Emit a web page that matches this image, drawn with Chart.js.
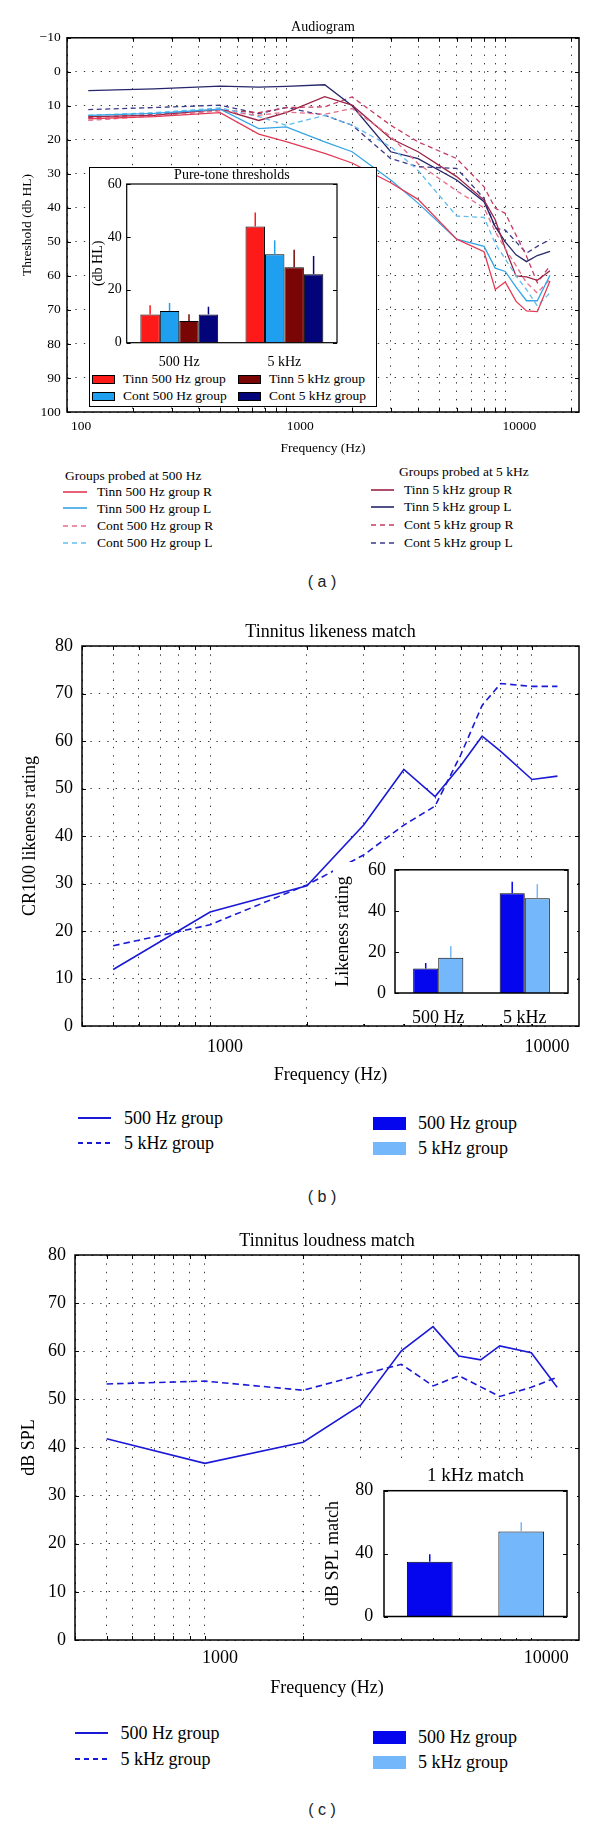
<!DOCTYPE html>
<html lang="en">
<head>
<meta charset="utf-8">
<title>Audiogram, tinnitus likeness and loudness match</title>
<script src="https://cdn.jsdelivr.net/npm/chart.js@4.4.1/dist/chart.umd.min.js"></script>
<style>
  html, body { margin: 0; padding: 0; background: #fff; }
  #page { position: relative; width: 600px; height: 1826px; overflow: hidden;
          font-family: "Liberation Serif", "Times New Roman", serif; color: #000; }
  #page canvas, #page .abs { position: absolute; }
  .txt { white-space: nowrap; line-height: 1; }
  .tag { font-family: "Liberation Sans", Arial, sans-serif; transform: translateX(-50%); color: #222; }
  .white { background: #fff; box-sizing: border-box; }
</style>
</head>
<body>
<div id="page"></div>
<script>
// (a) audiogram: thresholds in dB HL per test frequency
const audioFreqs = [125, 250, 500, 750, 1000, 1500, 2000, 3000, 4000, 6000, 8000, 9000, 10000, 11200, 12500, 14000, 16000];
const tinn500R = [13.8, 13.2, 12.0, 18.3, 20.5, 24.0, 26.8, 32.6, 37.5, 49.2, 52.9, 64.0, 61.8, 67.5, 70.3, 70.5, 61.5];
const tinn500L = [12.8, 12.2, 11.0, 16.7, 16.2, 20.6, 23.5, 31.8, 38.6, 49.2, 51.3, 57.7, 58.7, 63.3, 67.3, 67.3, 59.8];
const cont500R = [14.3, 13.0, 11.5, 12.8, 11.8, 12.5, 10.8, 19.0, 27.0, 35.0, 40.0, 47.0, 52.0, 57.0, 62.0, 65.0, 61.0];
const cont500L = [12.8, 12.0, 10.6, 13.2, 15.7, 12.8, 15.7, 22.0, 29.0, 42.4, 42.8, 50.5, 55.0, 60.0, 64.0, 68.8, 65.0];
const tinn5kR = [13.2, 12.8, 11.0, 14.3, 12.0, 7.3, 9.8, 19.6, 23.5, 30.8, 37.7, 43.5, 52.0, 60.0, 60.3, 61.3, 58.5];
const tinn5kL = [5.5, 5.0, 4.2, 4.5, 4.3, 3.8, 10.0, 23.5, 25.5, 31.8, 38.2, 45.5, 50.0, 53.8, 55.8, 54.0, 52.8];
const cont5kR = [13.5, 12.5, 11.2, 12.0, 10.5, 10.3, 7.4, 15.7, 20.6, 25.5, 33.8, 40.1, 41.6, 48.0, 54.2, 62.0, 57.0];
const cont5kL = [11.1, 10.5, 9.8, 12.3, 10.5, 12.8, 15.7, 25.5, 27.9, 28.4, 37.2, 46.0, 46.5, 50.0, 53.3, 51.3, 49.3];
const audioGridTicks = [100, 200, 300, 400, 500, 600, 700, 800, 900, 1000, 2000, 3000, 4000, 5000, 6000, 7000, 8000, 9000, 10000, 20000];
const audioLabelTicks = [100, 1000, 10000];

// (a) inset: pure-tone thresholds
const toneCats = ["500 Hz", "5 kHz"];
const toneTinn500 = [10.7, 43.9];
const toneTinn500Err = [3.5, 5.3];
const toneCont500 = [12.0, 33.4];
const toneCont500Err = [3.0, 5.3];
const toneTinn5k = [8.2, 28.5];
const toneTinn5kErr = [2.6, 6.6];
const toneCont5k = [10.7, 25.9];
const toneCont5kErr = [2.9, 6.9];

// (b) likeness match
const likeFreqs = [500, 1000, 2000, 3000, 4000, 5000, 6000, 7000, 8000, 10000, 12000];
const like500 = [11.9, 24.0, 29.5, 42.3, 54.0, 48.3, 54.8, 61.0, 57.8, 51.9, 52.6];
const like5k = [16.9, 21.3, 29.7, 36.0, 42.3, 46.3, 57.0, 67.5, 72.1, 71.5, 71.5];
const likeBarCats = ["500 Hz", "5 kHz"];
const likeBar500 = [11.9, 48.6];
const likeBar500Err = [2.7, 5.6];
const likeBar5k = [17.2, 46.2];
const likeBar5kErr = [5.7, 6.8];

// (c) loudness match
const loudFreqs = [500, 1000, 2000, 3000, 4000, 5000, 6000, 7000, 8000, 10000, 12000];
const loud500 = [41.8, 36.7, 41.1, 48.8, 60.1, 65.1, 59.0, 58.2, 61.1, 59.7, 52.5];
const loud5k = [53.2, 53.8, 51.9, 55.1, 57.3, 52.8, 54.9, 52.6, 50.6, 52.5, 54.6];
const loudBarCats = ["500 Hz group", "5 kHz group"];
const loudBar = [34.8, 54.0];
const loudBarErr = [4.8, 6.0];

const matchGridTicks = [400, 500, 600, 700, 800, 900, 1000, 2000, 3000, 4000, 5000, 6000, 7000, 8000, 9000, 10000];
const matchLabelTicks = [1000, 10000];

const lineBlue = "#1a1ad6";
const barDark = "#0505ee";
const barLight = "#74b8fb";
const gridColor = "#3a3a3a";
const gridDash = [1.4, 7];

const audioSeries = [
  { label: "Tinn 500 Hz group R", values: tinn500R, color: "#e33b55", dashed: false },
  { label: "Tinn 500 Hz group L", values: tinn500L, color: "#35a5e6", dashed: false },
  { label: "Cont 500 Hz group R", values: cont500R, color: "#e56d8a", dashed: true },
  { label: "Cont 500 Hz group L", values: cont500L, color: "#62bdf0", dashed: true },
  { label: "Tinn 5 kHz group R", values: tinn5kR, color: "#9b2446", dashed: false },
  { label: "Tinn 5 kHz group L", values: tinn5kL, color: "#26266c", dashed: false },
  { label: "Cont 5 kHz group R", values: cont5kR, color: "#c73a5f", dashed: true },
  { label: "Cont 5 kHz group L", values: cont5kL, color: "#3a3a88", dashed: true },
];

const toneSeries = [
  { label: "Tinn 500 Hz group", values: toneTinn500, errors: toneTinn500Err, color: "#ff1a1a" },
  { label: "Cont 500 Hz group", values: toneCont500, errors: toneCont500Err, color: "#1e9ff0" },
  { label: "Tinn 5 kHz group", values: toneTinn5k, errors: toneTinn5kErr, color: "#7a0505" },
  { label: "Cont 5 kHz group", values: toneCont5k, errors: toneCont5kErr, color: "#03037a" },
];

Chart.defaults.font.family = "'Liberation Serif', 'Times New Roman', serif";
Chart.defaults.color = "#000";
Chart.defaults.animation = false;
Chart.defaults.plugins.legend.display = false;
Chart.defaults.plugins.tooltip.enabled = false;

const page = document.getElementById("page");

// box around the plot area plus small inward ticks, matlab style
const framePlugin = {
  id: "frame",
  afterDraw(chart, args, opts) {
    const { ctx, chartArea: area } = chart;
    const len = 4;
    ctx.save();
    ctx.strokeStyle = "#000";
    ctx.lineWidth = 1;
    ctx.beginPath();
    if (opts.xTicks) {
      const sx = chart.scales.x;
      sx.ticks.forEach((t) => {
        const px = Math.round(sx.getPixelForValue(t.value)) + 0.5;
        ctx.moveTo(px, area.top);
        ctx.lineTo(px, area.top + len);
        ctx.moveTo(px, area.bottom);
        ctx.lineTo(px, area.bottom - len);
      });
    }
    if (opts.yTicks) {
      const sy = chart.scales.y;
      sy.ticks.forEach((t) => {
        const py = Math.round(sy.getPixelForValue(t.value)) + 0.5;
        ctx.moveTo(area.left, py);
        ctx.lineTo(area.left + len, py);
        ctx.moveTo(area.right, py);
        ctx.lineTo(area.right - len, py);
      });
    }
    ctx.stroke();
    ctx.lineWidth = opts.lineWidth || 1.5;
    ctx.strokeRect(area.left, area.top, area.right - area.left, area.bottom - area.top);
    ctx.restore();
  },
};

// one-sided error bars on top of each bar
const errorBarPlugin = {
  id: "errorBars",
  afterDatasetsDraw(chart) {
    const { ctx } = chart;
    const yScale = chart.scales.y;
    chart.data.datasets.forEach((ds, i) => {
      if (!ds.errors) return;
      chart.getDatasetMeta(i).data.forEach((bar, j) => {
        const color = Array.isArray(ds.backgroundColor) ? ds.backgroundColor[j] : ds.backgroundColor;
        const top = yScale.getPixelForValue(ds.data[j] + ds.errors[j]);
        ctx.save();
        ctx.strokeStyle = color;
        ctx.lineWidth = 1.5;
        ctx.beginPath();
        ctx.moveTo(bar.x, bar.y);
        ctx.lineTo(bar.x, top);
        ctx.stroke();
        ctx.restore();
      });
    });
  },
};

function addCanvas(x, y, w, h) {
  const c = document.createElement("canvas");
  c.width = w;
  c.height = h;
  c.style.left = x + "px";
  c.style.top = y + "px";
  page.appendChild(c);
  return c;
}

function addWhiteBox(x, y, w, h, border) {
  const d = document.createElement("div");
  d.className = "abs white";
  Object.assign(d.style, {
    left: x + "px", top: y + "px", width: w + "px", height: h + "px",
    border: border ? "1px solid #000" : "none",
  });
  page.appendChild(d);
}

function addText(text, x, cy, size, cls = "txt") {
  const d = document.createElement("div");
  d.className = "abs " + cls;
  d.textContent = text;
  d.style.left = x + "px";
  d.style.top = (cy - size / 2) + "px";
  d.style.fontSize = size + "px";
  page.appendChild(d);
}

function addLineSample(x1, x2, cy, color, dashed, width) {
  const ns = "http://www.w3.org/2000/svg";
  const svg = document.createElementNS(ns, "svg");
  svg.setAttribute("class", "abs");
  svg.setAttribute("width", x2 - x1);
  svg.setAttribute("height", 6);
  svg.style.left = x1 + "px";
  svg.style.top = (cy - 3) + "px";
  const line = document.createElementNS(ns, "line");
  line.setAttribute("x1", 0);
  line.setAttribute("x2", x2 - x1);
  line.setAttribute("y1", 3);
  line.setAttribute("y2", 3);
  line.setAttribute("stroke", color);
  line.setAttribute("stroke-width", width);
  if (dashed) line.setAttribute("stroke-dasharray", "5 4");
  svg.appendChild(line);
  page.appendChild(svg);
}

function addSwatch(x, cy, w, h, color, outlined) {
  const d = document.createElement("div");
  d.className = "abs";
  Object.assign(d.style, {
    left: x + "px", top: (cy - h / 2) + "px", width: w + "px", height: h + "px",
    background: color, boxSizing: "border-box",
    border: outlined ? "1px solid #000" : "none",
  });
  page.appendChild(d);
}

function plotTitle(text, size, padTop, padBottom, lineHeight = 1.2) {
  return {
    display: true, text, fullSize: false, color: "#000",
    font: { size, weight: "normal", lineHeight },
    padding: { top: padTop, bottom: padBottom },
  };
}

function logAxis(min, max, gridTicks, labelTicks, size, title, tickPad, titlePad, height, labelOffset) {
  return {
    type: "logarithmic", min, max,
    afterBuildTicks: (s) => { s.ticks = gridTicks.map((v) => ({ value: v })); },
    afterFit: (s) => { s.height = height; },
    ticks: {
      autoSkip: false, maxRotation: 0, padding: tickPad, labelOffset, font: { size },
      callback: (v) => (labelTicks.includes(v) ? String(v) : ""),
    },
    grid: { color: gridColor, lineWidth: 1, drawTicks: false },
    border: { display: false, dash: gridDash },
    title: { display: true, text: title, font: { size }, padding: { top: 0, bottom: titlePad } },
  };
}

function valueAxis(min, max, step, size, title, width, tickPad, titlePad, reverse, showGrid) {
  return {
    type: "linear", min, max, reverse,
    afterFit: (s) => { s.width = width; },
    ticks: { stepSize: step, padding: tickPad, font: { size }, callback: (v) => String(v).replace("-", "\u2212") },
    grid: { display: showGrid, color: gridColor, lineWidth: 1, drawTicks: false },
    border: { display: false, dash: gridDash },
    title: { display: true, text: title, font: { size }, padding: { top: titlePad, bottom: 0 } },
  };
}

function renderAudiogram() {
  new Chart(addCanvas(0, 0, 600, 458), {
    type: "line",
    data: {
      datasets: audioSeries.map((s) => ({
        label: s.label,
        data: audioFreqs.map((f, i) => ({ x: f, y: s.values[i] })),
        borderColor: s.color,
        borderWidth: 1.3,
        borderDash: s.dashed ? [5, 3.5] : [],
        pointRadius: 0,
        fill: false,
      })),
    },
    options: {
      responsive: false,
      devicePixelRatio: 1,
      layout: { padding: { left: 0, right: 21, top: 0, bottom: 0 } },
      scales: {
        x: logAxis(100, 21700, audioGridTicks, audioLabelTicks, 13.5, "Frequency (Hz)", 6.6, 1.3, 46, 14),
        y: valueAxis(-10, 100, 10, 13.5, "Threshold (db HL)", 67, 6.3, 19.6, true, true),
      },
      plugins: { title: plotTitle("Audiogram", 14, 19, 2), frame: { xTicks: true, yTicks: true } },
    },
    plugins: [framePlugin],
  });
}

function renderToneInset() {
  addWhiteBox(89, 167, 288, 240, true);
  new Chart(addCanvas(90, 168, 267, 200), {
    type: "bar",
    data: {
      labels: toneCats,
      datasets: toneSeries.map((s) => ({
        label: s.label, data: s.values, errors: s.errors,
        backgroundColor: s.color, borderColor: "#000", borderWidth: 1,
      })),
    },
    options: {
      responsive: false,
      devicePixelRatio: 1,
      layout: { padding: { left: 0, right: 20, top: 0, bottom: 0 } },
      datasets: { bar: { categoryPercentage: 0.74, barPercentage: 1 } },
      scales: {
        x: {
          afterFit: (s) => { s.height = 25.3; },
          grid: { display: false }, border: { display: false },
          ticks: { padding: 2.9, font: { size: 14 } },
        },
        y: valueAxis(0, 60, 20, 14, "(db HL)", 36.7, 5, 0, false, false),
      },
      plugins: { title: plotTitle("Pure-tone thresholds", 14, 0, 2, 1), frame: { yTicks: true, lineWidth: 1.2 } },
    },
    plugins: [framePlugin, errorBarPlugin],
  });

  const rows = [379, 396];
  const cols = [{ sw: 92, tx: 123 }, { sw: 238, tx: 269 }];
  // legend reads row by row: Tinn 500, Tinn 5k / Cont 500, Cont 5k
  [[0, 2], [1, 3]].forEach((pair, r) => {
    pair.forEach((idx, c) => {
      addSwatch(cols[c].sw, rows[r], 23, 9, toneSeries[idx].color, true);
      addText(toneSeries[idx].label, cols[c].tx, rows[r], 13.5);
    });
  });
}

function renderAudioLegend() {
  addText("Groups probed at 500 Hz", 65, 475.7, 13.5);
  addText("Groups probed at 5 kHz", 399, 471.7, 13.5);
  const leftRows = [491.7, 508.3, 525.7, 542.7];
  const rightRows = [490, 506.7, 525, 542.7];
  audioSeries.slice(0, 4).forEach((s, i) => {
    addLineSample(63, 87, leftRows[i], s.color, s.dashed, 1.6);
    addText(s.label, 97, leftRows[i], 13.5);
  });
  audioSeries.slice(4).forEach((s, i) => {
    addLineSample(371, 394, rightRows[i], s.color, s.dashed, 1.6);
    addText(s.label, 404, rightRows[i], 13.5);
  });
  addText("( a )", 322, 582, 16, "txt tag");
}

function matchLineChart(top, height, titleText, titlePads, yTitle, values, xOpts, yOpts) {
  new Chart(addCanvas(0, top, 600, height), {
    type: "line",
    data: {
      datasets: [
        { label: "500 Hz group", data: values.freqs.map((f, i) => ({ x: f, y: values.solid[i] })), borderDash: [] },
        { label: "5 kHz group", data: values.freqs.map((f, i) => ({ x: f, y: values.dashed[i] })), borderDash: [6.5, 4] },
      ].map((d) => ({ ...d, borderColor: lineBlue, borderWidth: 1.6, pointRadius: 0, fill: false })),
    },
    options: {
      responsive: false,
      devicePixelRatio: 1,
      layout: { padding: { left: 0, right: 21, top: 0, bottom: 0 } },
      scales: {
        x: logAxis(400, 14000, matchGridTicks, matchLabelTicks, 18, "Frequency (Hz)", xOpts.tickPad, xOpts.titlePad, xOpts.height, 15),
        y: valueAxis(0, 80, 10, 18, yTitle, yOpts.width, 9, yOpts.titlePad, false, true),
      },
      plugins: { title: plotTitle(titleText, 18, titlePads[0], titlePads[1]), frame: { xTicks: true, yTicks: true } },
    },
    plugins: [framePlugin],
  });
}

function matchLegend(lineRows, swatchRows, lineX, textX) {
  addLineSample(lineX, lineX + 33, lineRows[0], lineBlue, false, 1.8);
  addText("500 Hz group", textX, lineRows[0], 18);
  addLineSample(lineX, lineX + 33, lineRows[1], lineBlue, true, 1.8);
  addText("5 kHz group", textX, lineRows[1], 18);
  addSwatch(373, swatchRows[0], 33, 13, barDark, false);
  addText("500 Hz group", 418, swatchRows[0], 18);
  addSwatch(373, swatchRows[1], 33, 13, barLight, false);
  addText("5 kHz group", 418, swatchRows[1], 18);
}

function renderLikeness() {
  matchLineChart(615, 475, "Tinnitus likeness match", [6.2, 3.2], "CR100 likeness rating",
    { freqs: likeFreqs, solid: like500, dashed: like5k },
    { tickPad: 10.2, titlePad: 4.2, height: 64 }, { width: 82, titlePad: 19.8 });

  addWhiteBox(333, 862, 244, 162, false);
  new Chart(addCanvas(330, 850, 247, 174), {
    type: "bar",
    data: {
      labels: likeBarCats,
      datasets: [
        { label: "500 Hz group", data: likeBar500, errors: likeBar500Err, backgroundColor: barDark },
        { label: "5 kHz group", data: likeBar5k, errors: likeBar5kErr, backgroundColor: barLight },
      ].map((d) => ({ ...d, borderColor: "#000", borderWidth: 1 })),
    },
    options: {
      responsive: false,
      devicePixelRatio: 1,
      layout: { padding: { left: 0, right: 9, top: 15, bottom: 0 } },
      datasets: { bar: { categoryPercentage: 0.58, barPercentage: 1 } },
      scales: {
        x: {
          afterFit: (s) => { s.height = 31; },
          grid: { display: false }, border: { display: false },
          ticks: { padding: 6.2, font: { size: 18 } },
        },
        y: valueAxis(0, 60, 20, 18, "Likeness rating", 65, 9, 2.2, false, false),
      },
      plugins: { frame: { yTicks: true } },
    },
    plugins: [framePlugin, errorBarPlugin],
  });

  matchLegend([1118, 1143], [1123, 1148], 78, 124);
  addText("( b )", 322, 1197, 16, "txt tag");
}

function renderLoudness() {
  matchLineChart(1220, 480, "Tinnitus loudness match", [10.9, 2.5], "dB SPL",
    { freqs: loudFreqs, solid: loud500, dashed: loud5k },
    { tickPad: 7.2, titlePad: 1.2, height: 60 }, { width: 75, titlePad: 18.2 });

  addWhiteBox(322, 1460, 255, 178, false);
  new Chart(addCanvas(322, 1460, 255, 178), {
    type: "bar",
    data: {
      labels: loudBarCats,
      datasets: [{
        label: "1 kHz match", data: loudBar, errors: loudBarErr,
        backgroundColor: [barDark, barLight], borderColor: "#000", borderWidth: 1,
      }],
    },
    options: {
      responsive: false,
      devicePixelRatio: 1,
      layout: { padding: { left: 0, right: 10, top: 0, bottom: 0 } },
      datasets: { bar: { categoryPercentage: 0.5, barPercentage: 1 } },
      scales: {
        x: {
          afterFit: (s) => { s.height = 8.7; },
          grid: { display: false }, border: { display: false },
          ticks: { display: false },
        },
        y: valueAxis(0, 80, 40, 18, "dB SPL match", 62, 10.7, 0.2, false, false),
      },
      plugins: { title: plotTitle("1 kHz match", 19, 4.6, 3.3), frame: { yTicks: true } },
    },
    plugins: [framePlugin, errorBarPlugin],
  });

  matchLegend([1733, 1759], [1737, 1762], 75, 120.5);
  addText("( c )", 322, 1810, 16, "txt tag");
}

renderAudiogram();
renderToneInset();
renderAudioLegend();
renderLikeness();
renderLoudness();
</script>
</body>
</html>
